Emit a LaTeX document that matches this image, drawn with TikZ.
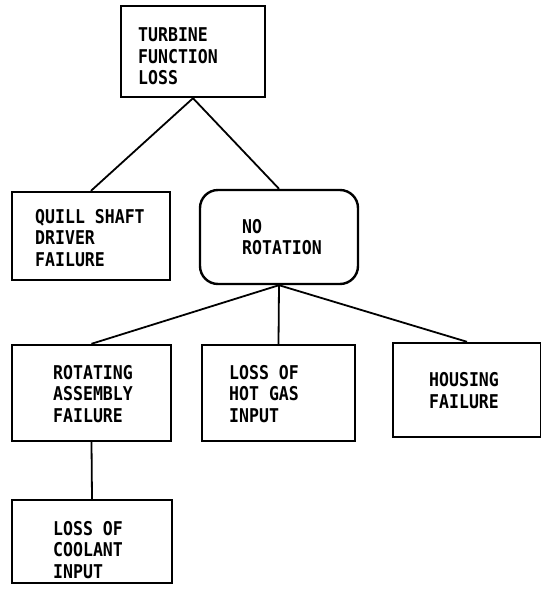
\documentclass[tikz,border=0pt]{standalone}
\usepackage{fontspec}
\newfontfamily\printfont[FakeStretch=0.87]{DejaVu Sans Mono}
\usetikzlibrary{positioning}

\begin{document}
\begin{tikzpicture}[x=1pt, y=-1pt,
  blk/.style={draw, line width=2.4pt, inner sep=0pt},
  rblk/.style={blk, rounded corners=18pt},
  txt/.style={anchor=west, align=left, inner sep=0pt,
    font=\printfont\bfseries\fontsize{19}{21.5}\selectfont},
  ln/.style={line width=1.8pt}]
  \useasboundingbox (0,0) rectangle (541,595);
  % boxes
  \node[blk, minimum width=144pt, minimum height=91pt] (top) at (193,51.5) {};
  \node[blk, minimum width=158pt, minimum height=88pt] (quill) at (91,236) {};
  \node[rblk, minimum width=158pt, minimum height=94pt] (norot) at (279,237) {};
  \node[blk, minimum width=159pt, minimum height=96pt] (rot) at (91.5,393) {};
  \node[blk, minimum width=153pt, minimum height=96pt] (gas) at (278.5,393) {};
  \node[blk, minimum width=148pt, minimum height=94pt] (hous) at (467,390) {};
  \node[blk, minimum width=160pt, minimum height=83pt] (cool) at (92,541.5) {};
  % labels
  \node[txt] (top-t) at (138,56.5) {TURBINE\\FUNCTION\\LOSS};
  \node[txt] (quill-t) at (35,238) {QUILL SHAFT\\DRIVER\\FAILURE};
  \node[txt] (norot-t) at (242,237) {NO\\ROTATION};
  \node[txt] (rot-t) at (53,394) {ROTATING\\ASSEMBLY\\FAILURE};
  \node[txt] (gas-t) at (229,394) {LOSS OF\\HOT GAS\\INPUT};
  \node[txt] (hous-t) at (429,390.5) {HOUSING\\FAILURE};
  \node[txt] (cool-t) at (53,550) {LOSS OF\\COOLANT\\INPUT};
  % connectors
  \draw[ln] (top.south) -- (quill.north);
  \draw[ln] (top.south) -- (norot.north);
  \draw[ln] (norot.south) -- (rot.north);
  \draw[ln] (norot.south) -- (gas.north);
  \draw[ln] (norot.south) -- (hous.north);
  \draw[ln] (rot.south) -- (cool.north);
\end{tikzpicture}
\end{document}
